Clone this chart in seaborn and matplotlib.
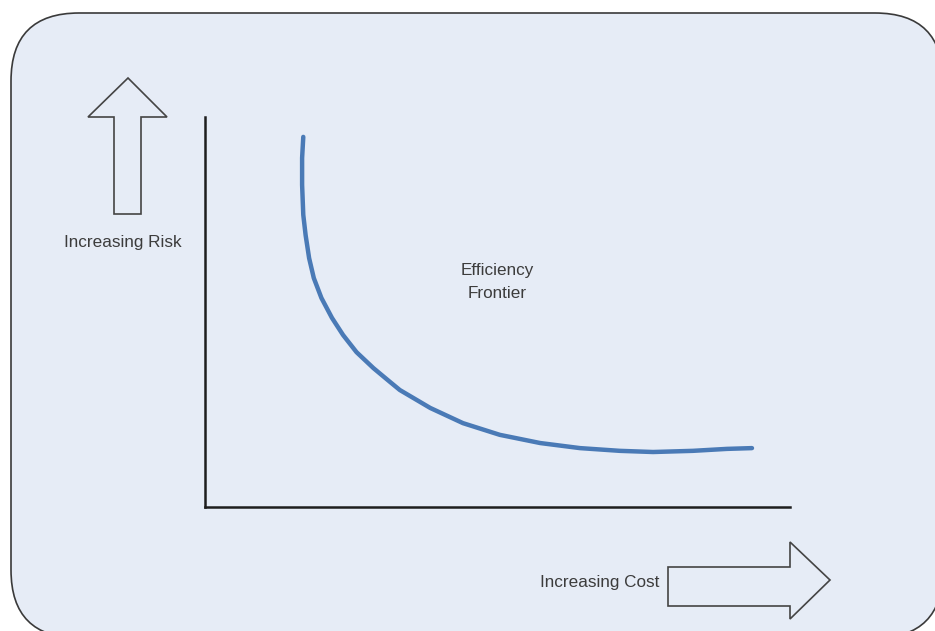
import matplotlib
matplotlib.use("Agg")
import matplotlib.pyplot as plt
import seaborn as sns
import pandas as pd
from matplotlib.patches import FancyBboxPatch, Polygon

sns.set_theme(style="white")
plt.rcParams["font.family"] = ["Liberation Sans", "DejaVu Sans"]

# Efficiency frontier (conceptual units: cost 0-10, risk 0-10)
cost = [1.68, 1.66, 1.66, 1.68, 1.72, 1.78, 1.86, 1.99, 2.17, 2.36, 2.59, 2.88,
        3.16, 3.33, 3.85, 4.41, 5.04, 5.73, 6.41, 7.09, 7.66, 8.34, 8.92, 9.35]
risk = [9.49, 8.95, 8.26, 7.49, 6.97, 6.38, 5.87, 5.36, 4.85, 4.41, 3.97, 3.56,
        3.21, 3.00, 2.54, 2.15, 1.85, 1.64, 1.51, 1.44, 1.41, 1.44, 1.49, 1.51]

risk_label = "Increasing Risk"
cost_label = "Increasing Cost"
curve_label = "Efficiency\nFrontier"

W, H = 935, 631
fig = plt.figure(figsize=(W / 100, H / 100), dpi=100)
fig.patch.set_facecolor("white")

# Background layer in pixel coordinates
bg = fig.add_axes([0, 0, 1, 1])
bg.set_xlim(0, W)
bg.set_ylim(H, 0)
bg.axis("off")

panel = FancyBboxPatch((11, 13), 932, 625,
                       boxstyle="round,pad=0,rounding_size=68",
                       facecolor="#e6ecf6", edgecolor="#3a3a3a", linewidth=1.2)
bg.add_patch(panel)

text_color = "#3c3c3c"
arrow_kw = dict(closed=True, facecolor="#e6ecf6", edgecolor="#444444", linewidth=1.2)

up_arrow = Polygon([(114, 214), (114, 117), (88, 117), (128, 78),
                    (167, 117), (141, 117), (141, 214)], **arrow_kw)
bg.add_patch(up_arrow)

right_arrow = Polygon([(668, 567), (790, 567), (790, 542), (830, 580),
                       (790, 619), (790, 606), (668, 606)], **arrow_kw)
bg.add_patch(right_arrow)

bg.text(123, 243, risk_label, ha="center", va="center", fontsize=12.3, color=text_color)
bg.text(600, 583, cost_label, ha="center", va="center", fontsize=12.3, color=text_color)
bg.text(497, 282, curve_label, ha="center", va="center", fontsize=12.3,
        color=text_color, linespacing=1.6)

# Chart area with the L-shaped axes
ax = fig.add_axes([205 / W, (H - 507) / H, 585 / W, 390 / H])
ax.set_facecolor("none")
df = pd.DataFrame({"cost": cost, "risk": risk})
sns.lineplot(data=df, x="cost", y="risk", sort=False, estimator=None,
             color="#4a7ab6", linewidth=3.2, ax=ax,
             solid_joinstyle="round", solid_capstyle="round")
ax.set_xlim(0, 10)
ax.set_ylim(0, 10)
ax.set_xticks([])
ax.set_yticks([])
ax.set_xlabel("")
ax.set_ylabel("")
for side in ("top", "right"):
    ax.spines[side].set_visible(False)
for side in ("left", "bottom"):
    ax.spines[side].set_color("#1e1e1e")
    ax.spines[side].set_linewidth(1.8)

fig.savefig("out.png", dpi=100, facecolor="white")
